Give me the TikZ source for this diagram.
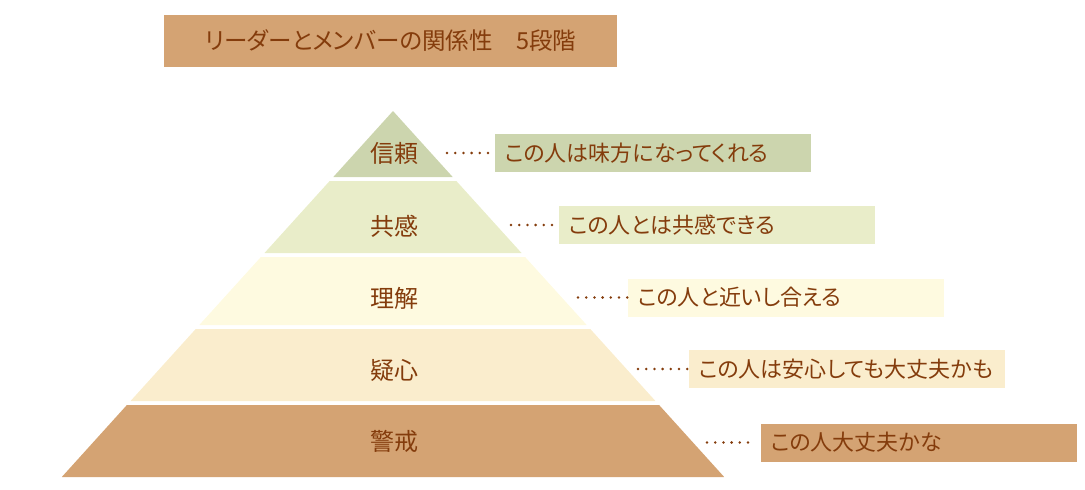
\documentclass[tikz,border=0pt]{standalone}
\usepackage{fontspec}
\setmainfont{Noto Sans CJK JP}[RawFeature=+palt]
\definecolor{lvA}{HTML}{CCD5AE}
\definecolor{lvB}{HTML}{E9EDC9}
\definecolor{lvC}{HTML}{FEFAE0}
\definecolor{lvD}{HTML}{FAEDCD}
\definecolor{lvE}{HTML}{D4A373}
\definecolor{txt}{HTML}{843C0C}
\tikzset{
  lvtext/.style={text=txt, font=\fontsize{24}{28}\selectfont, text height=19.2pt, text depth=1pt, inner sep=0pt},
  lbox/.style={anchor=west, text=txt, font=\fontsize{22}{26}\selectfont, minimum width=316pt, minimum height=38pt,
     inner xsep=9.5pt, inner ysep=0pt, text width=297pt, align=left, text height=17.6pt, text depth=0.9pt},
  dots/.style={draw=txt, line width=2.8pt, line cap=round, dash pattern=on 0pt off 8.2pt},
}
\begin{document}
\begin{tikzpicture}[x=1pt,y=-1pt]
\useasboundingbox (0,0) rectangle (1085,490);
% title
\node[fill=lvE, text=txt, minimum width=453pt, minimum height=52pt, inner sep=0pt,
      font=\fontsize{23.5}{28}\selectfont, text height=18.8pt, text depth=1pt] (title) at (390.5,41)
      {リーダーとメンバーの関係性　5段階};
% pyramid levels
\fill[lvA] (393,111) -- (452.7,177) -- (333.3,177) -- cycle;
\fill[lvB] (329.65,181) -- (456.35,181) -- (521.5,253) -- (264.5,253) -- cycle;
\fill[lvC] (260.9,257) -- (525.1,257) -- (586.7,325) -- (199.3,325) -- cycle;
\fill[lvD] (195.7,329) -- (590.3,329) -- (655.45,401) -- (130.55,401) -- cycle;
\fill[lvE] (126.9,405) -- (659.1,405) -- (724.2,477) -- (61.8,477) -- cycle;
% level labels
\node[lvtext] (l1) at (394,153) {信頼};
\node[lvtext] (l2) at (394,226) {共感};
\node[lvtext] (l3) at (394,298) {理解};
\node[lvtext] (l4) at (394,370) {疑心};
\node[lvtext] (l5) at (394,441) {警戒};
% description boxes
\node[lbox, fill=lvA] (b1) at (495,153) {この人は味方になってくれる};
\node[lbox, fill=lvB] (b2) at (559,225) {この人とは共感できる};
\node[lbox, fill=lvC] (b3) at (628,297.5) {この人と近いし合える};
\node[lbox, fill=lvD] (b4) at (689,369) {この人は安心しても大丈夫かも};
\node[lbox, fill=lvE] (b5) at (761,442.5) {この人大丈夫かな};
% dotted leaders
\coordinate (d1) at (447,153);
\coordinate (d2) at (511,225);
\coordinate (d3) at (578,297.5);
\coordinate (d4) at (638,369);
\coordinate (d5) at (707,442.5);
\draw[dots, shorten >=5pt] (d1) -- (b1.west);
\draw[dots, shorten >=5pt] (d2) -- (b2.west);
\draw[dots] (d3) -- (b3.west);
\draw[dots] (d4) -- (b4.west);
\draw[dots, shorten >=10pt] (d5) -- (b5.west);
\end{tikzpicture}
\end{document}
